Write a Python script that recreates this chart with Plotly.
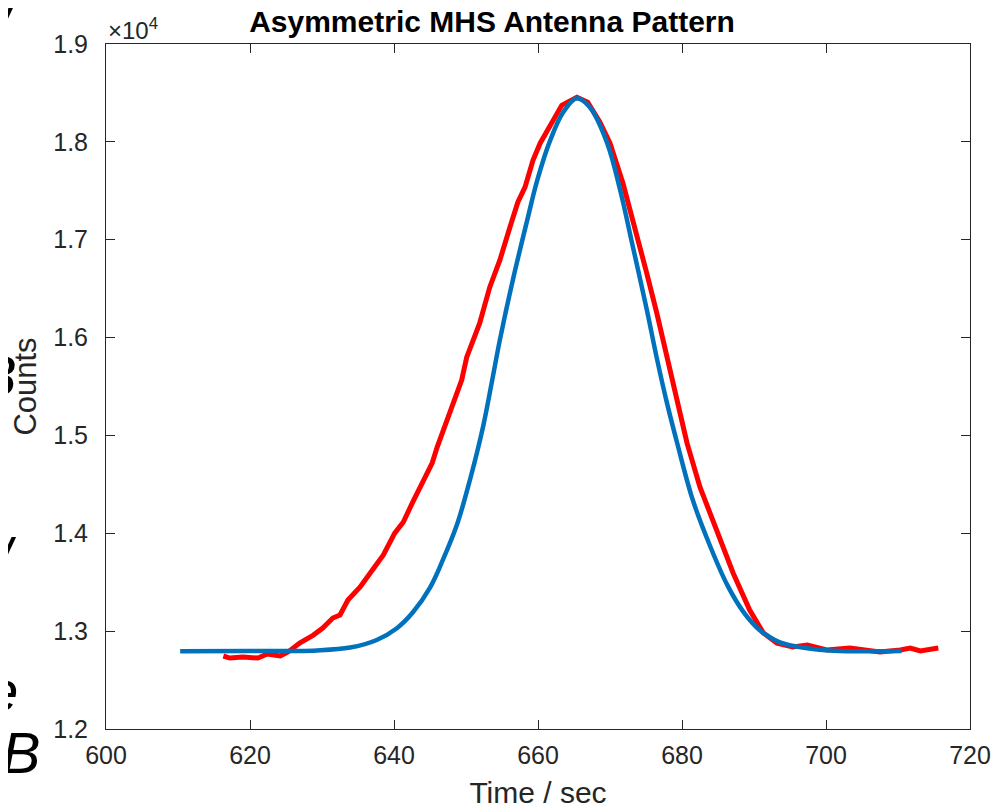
import plotly.graph_objects as go

# ---- data ----
measured_time = [616.3, 617.2, 619.0, 621.1, 622.4, 624.2, 625.3, 626.9, 628.8, 630.1,
                 631.5, 632.5, 633.6, 635.3, 636.7, 638.5, 640.1, 641.3, 642.6, 644.0,
                 645.3, 646.0, 647.8, 649.4, 650.1, 651.9, 653.3, 654.7, 656.1, 657.2,
                 658.2, 659.3, 660.3, 661.7, 663.3, 665.4, 666.9, 668.6, 670.0, 671.8,
                 673.2, 675.1, 676.5, 677.9, 679.3, 680.7, 682.5, 684.9, 687.1, 689.4,
                 691.3, 693.2, 695.4, 697.4, 700.1, 703.3, 707.5, 710.3, 711.7, 713.1, 715.6]
measured_counts = [12746, 12725, 12735, 12725, 12766, 12746, 12787, 12878, 12960, 13032,
                   13134, 13165, 13318, 13451, 13594, 13777, 14002, 14115, 14319, 14523,
                   14717, 14881, 15259, 15565, 15800, 16147, 16515, 16791, 17128, 17383,
                   17537, 17812, 17986, 18170, 18374, 18456, 18405, 18200, 17986, 17577,
                   17199, 16658, 16249, 15800, 15361, 14921, 14472, 14002, 13594, 13216,
                   12981, 12878, 12838, 12858, 12807, 12827, 12787, 12807, 12827, 12797, 12827]

fit_time = [610.3, 620.0, 629.3, 633.9, 637.6, 640.4, 642.6, 645.0, 646.8, 648.8,
            650.6, 652.4, 653.6, 654.7, 656.5, 658.5, 659.9, 661.7, 663.5, 665.4,
            667.2, 669.6, 671.4, 673.2, 675.1, 676.5, 677.9, 679.3, 681.5, 683.9,
            686.3, 688.5, 690.8, 693.6, 697.4, 701.0, 710.5]
fit_counts = [12795, 12796, 12803, 12832, 12910, 13030, 13190, 13445, 13730, 14100,
              14560, 15100, 15550, 15974, 16587, 17199, 17608, 18017, 18303, 18446,
              18354, 17990, 17510, 16920, 16290, 15790, 15335, 14930, 14340, 13870,
              13470, 13200, 13010, 12885, 12825, 12800, 12797]

x_ticks = [600, 620, 640, 660, 680, 700, 720]
y_tick_vals = [12000, 13000, 14000, 15000, 16000, 17000, 18000, 19000]
y_tick_text = ["1.2", "1.3", "1.4", "1.5", "1.6", "1.7", "1.8", "1.9"]

AX = "#262626"
FONT = "Liberation Sans, Arial, Helvetica, sans-serif"
OFF = 8  # default page body margin of the html page

fig = go.Figure()
fig.add_trace(go.Scatter(x=measured_time, y=measured_counts, mode="lines",
                         line=dict(color="#FF0000", width=5), showlegend=False))
fig.add_trace(go.Scatter(x=fit_time, y=fit_counts, mode="lines",
                         line=dict(color="#0072BD", width=4.5, shape="spline", smoothing=1.0),
                         showlegend=False))

fig.update_layout(
    width=1000, height=807,
    margin=dict(l=106 - OFF, r=1000 - 970 + OFF, t=44 - OFF, b=807 - 729 + OFF, autoexpand=False),
    paper_bgcolor="white", plot_bgcolor="white",
    font=dict(family=FONT, size=25, color=AX),
    title=dict(text="<b>Asymmetric MHS Antenna Pattern</b>", x=(492 - OFF) / 1000, xref="container",
               xanchor="center", y=1 - (21 - OFF) / 807, yref="container", yanchor="middle",
               font=dict(size=30, color="black", family=FONT)),
)
fig.update_xaxes(range=[600, 720], tickvals=x_ticks, showgrid=False, zeroline=False,
                 showline=True, linecolor=AX, linewidth=1, mirror="ticks",
                 ticks="inside", ticklen=9, tickcolor=AX, tickwidth=1, automargin=False,
                 tickfont=dict(size=25, color=AX), ticklabelstandoff=4,
                 title=dict(text="Time / sec", font=dict(size=30, color=AX), standoff=13))
fig.update_yaxes(range=[12000, 19000], tickvals=y_tick_vals, ticktext=y_tick_text,
                 showgrid=False, zeroline=False,
                 showline=True, linecolor=AX, linewidth=1, mirror="ticks",
                 ticks="inside", ticklen=9, tickcolor=AX, tickwidth=1, automargin=False,
                 tickfont=dict(size=25, color=AX), ticklabelstandoff=12,
                 title=dict(text="Counts", font=dict(size=31, color=AX), standoff=7))

# exponent label
fig.add_annotation(text="×10<sup>4</sup>", xref="paper", yref="paper", x=0.0, y=1.0,
                   xanchor="left", yanchor="bottom", showarrow=False,
                   font=dict(size=24, color=AX, family=FONT), xshift=0, yshift=-2)

# cropped fragments of slide text at the left edge
frag = dict(size=58, color="black", family=FONT)
def px_x(p):
    return (p - 106) / 864
def px_y(p):
    return (729 - p) / 685
for txt, xr, yc in [("<i>B</i>", 19, 375), ("<i>e</i>", 20, 690), ("<i>+B</i>", 43, 752),
                    ("<i>/</i>", 19, 558), ("<i>/</i>", 21, 18)]:
    fig.add_annotation(text=txt, xref="paper", yref="paper", x=px_x(xr), y=px_y(yc),
                       xanchor="right", yanchor="middle", showarrow=False, font=frag)

fig.write_html("out.html")
